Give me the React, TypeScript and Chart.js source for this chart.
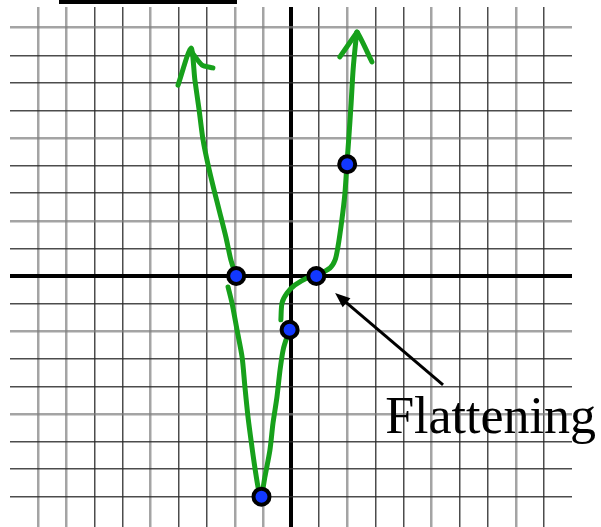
import React, { useEffect, useRef } from "react";
import { Chart, registerables } from "chart.js";

Chart.register(...registerables);

// Marked points on the curve (grid units)
const pointX = [-1.95, -1.05, -0.05, 0.9, 2.0];
const pointY = [0, -8, -1.95, 0, 4.05];

// Hand-drawn strokes of the curve, each as [x, y] pairs in grid units
const leftArm: number[][] = [
  [-4.02, 6.92], [-3.56, 8.26], [-3.42, 7.1], [-3.27, 6.02], [-3.13, 4.93],
  [-2.95, 4.02], [-2.74, 3.12], [-2.53, 2.28], [-2.31, 1.38], [-2.14, 0.58], [-1.96, 0],
];
const leftBarb: number[][] = [
  [-3.52, 8.1], [-3.17, 7.65], [-2.78, 7.54],
];
const valley: number[][] = [
  [-2.24, -0.4], [-2.1, -0.98], [-1.92, -1.96], [-1.74, -2.94], [-1.64, -4.02],
  [-1.53, -5.11], [-1.39, -6.2], [-1.3, -6.85], [-1.2, -7.5], [-1.1, -8.01],
  [-1.03, -7.87], [-0.93, -7.29], [-0.75, -6.31], [-0.64, -5.33], [-0.5, -4.39],
  [-0.39, -3.41], [-0.28, -2.68], [-0.14, -2.21], [-0.04, -1.99],
];
const rightArm: number[][] = [
  [-0.36, -1.59], [-0.32, -0.98], [-0.14, -0.62], [0.14, -0.33], [0.57, -0.07],
  [0.93, 0.04], [1.39, 0.29], [1.57, 0.58], [1.67, 1.05], [1.81, 2.03],
  [1.92, 3.01], [1.99, 4.06], [2.06, 5.04], [2.14, 6.27], [2.21, 7.47],
  [2.31, 8.55], [2.35, 8.84], [2.88, 7.76],
];
const rightBarb: number[][] = [
  [1.74, 7.94], [2.35, 8.84],
];

// Callout
const calloutText = "Flattening";
const arrowTail = [5.41, -3.95];
const arrowTip = [1.57, -0.62];
const textAnchor = [3.35, -5.69];

// Axis ranges of the grid sheet
const X_MIN = -10;
const X_MAX = 10;
const Y_MIN = -9.1;
const Y_MAX = 9.75;

// Grid line tones
const LIGHT = "rgba(125,125,125,0.7)";
const DARK = "rgba(45,45,45,0.85)";
const lightCols = [-9, -8, -5, -2, -1, 2, 5, 8];
const lightRows = [9, 5, 2, -2, -5, -9];

const GREEN = "#17a01b";

const toXY = (pts: number[][]) => pts.map(([x, y]) => ({ x, y }));

const gridStyle = (lights: number[], limit: number) => ({
  color: (ctx: any) => {
    const v = ctx.tick?.value;
    if (v === undefined || !Number.isInteger(v) || Math.abs(v) >= limit) return "rgba(0,0,0,0)";
    if (v === 0) return "#000";
    return lights.includes(v) ? LIGHT : DARK;
  },
  lineWidth: (ctx: any) => {
    const v = ctx.tick?.value;
    if (v === 0) return 4;
    return lights.includes(v) ? 2.5 : 1.5;
  },
  drawTicks: false,
});

const calloutPlugin = {
  id: "callout",
  afterDatasetsDraw(chart: any) {
    const { ctx, scales } = chart;
    const sx = scales.x;
    const sy = scales.y;
    const tx = sx.getPixelForValue(arrowTail[0]);
    const ty = sy.getPixelForValue(arrowTail[1]);
    const hx = sx.getPixelForValue(arrowTip[0]);
    const hy = sy.getPixelForValue(arrowTip[1]);
    const ang = Math.atan2(hy - ty, hx - tx);
    const headLen = 15;
    const headHalf = 6;
    ctx.save();
    ctx.strokeStyle = "#000";
    ctx.fillStyle = "#000";
    ctx.lineWidth = 3;
    ctx.beginPath();
    ctx.moveTo(tx, ty);
    ctx.lineTo(hx - Math.cos(ang) * headLen * 0.8, hy - Math.sin(ang) * headLen * 0.8);
    ctx.stroke();
    ctx.beginPath();
    ctx.moveTo(hx, hy);
    ctx.lineTo(
      hx - Math.cos(ang) * headLen + Math.sin(ang) * headHalf,
      hy - Math.sin(ang) * headLen - Math.cos(ang) * headHalf
    );
    ctx.lineTo(
      hx - Math.cos(ang) * headLen - Math.sin(ang) * headHalf,
      hy - Math.sin(ang) * headLen + Math.cos(ang) * headHalf
    );
    ctx.closePath();
    ctx.fill();

    ctx.font = '52px "Liberation Serif", "Times New Roman", serif';
    ctx.textAlign = "left";
    ctx.textBaseline = "alphabetic";
    ctx.fillText(calloutText, sx.getPixelForValue(textAnchor[0]), sy.getPixelForValue(textAnchor[1]));
    ctx.restore();
  },
};

const strokeDataset = (label: string, pts: number[][]) => ({
  label,
  data: toXY(pts),
  showLine: true,
  borderColor: GREEN,
  borderWidth: 5,
  borderCapStyle: "round" as const,
  borderJoinStyle: "round" as const,
  pointRadius: 0,
  tension: 0.25,
  order: 2,
});

export default function App() {
  const canvasRef = useRef<HTMLCanvasElement | null>(null);

  useEffect(() => {
    if (!canvasRef.current) return;
    const chart = new Chart(canvasRef.current, {
      type: "scatter",
      data: {
        datasets: [
          {
            label: "points",
            data: pointX.map((x, i) => ({ x, y: pointY[i] })),
            pointRadius: 8,
            pointBorderWidth: 4,
            pointBackgroundColor: "#1238ff",
            pointBorderColor: "#000",
            showLine: false,
            order: 0,
          },
          strokeDataset("leftArm", leftArm),
          strokeDataset("leftBarb", leftBarb),
          strokeDataset("valley", valley),
          strokeDataset("rightArm", rightArm),
          strokeDataset("rightBarb", rightBarb),
        ],
      },
      options: {
        responsive: false,
        animation: false,
        events: [],
        layout: { autoPadding: false, padding: { left: 10, right: 29, top: 7, bottom: 0 } },
        plugins: { legend: { display: false }, tooltip: { enabled: false } },
        scales: {
          x: {
            type: "linear",
            min: X_MIN,
            max: X_MAX,
            ticks: { display: false, stepSize: 1 },
            grid: gridStyle(lightCols, 10),
            border: { display: false },
          },
          y: {
            type: "linear",
            min: Y_MIN,
            max: Y_MAX,
            ticks: { display: false, stepSize: 1 },
            grid: gridStyle(lightRows, 9.5),
            border: { display: false },
          },
        },
      },
      plugins: [calloutPlugin],
    });
    return () => chart.destroy();
  }, []);

  return (
    <div style={{ position: "fixed", left: 0, top: 0, width: 601, height: 527, background: "#fff" }}>
      <div style={{ position: "absolute", left: 59, top: 0, width: 178, height: 4, background: "#000" }} />
      <canvas ref={canvasRef} width={601} height={527} style={{ display: "block", width: 601, height: 527 }} />
    </div>
  );
}
